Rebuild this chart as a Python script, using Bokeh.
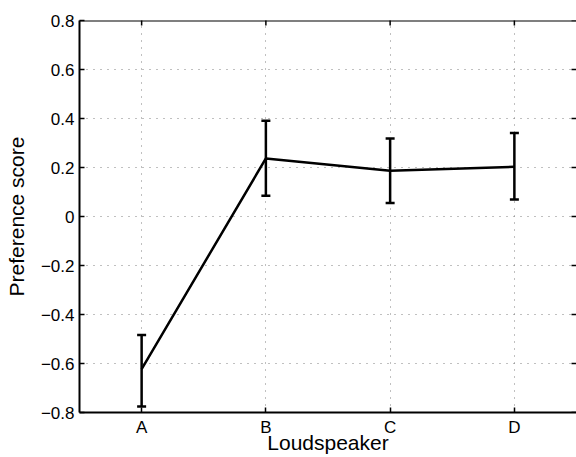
import math
from bokeh.plotting import figure
from bokeh.models import ColumnDataSource, Whisker, TeeHead, FixedTicker, Range1d, Span
from bokeh.embed import file_html
from bokeh.resources import INLINE

categories = ["A", "B", "C", "D"]
means = [-0.623, 0.237, 0.187, 0.203]
upper = [-0.484, 0.391, 0.318, 0.341]
lower = [-0.776, 0.085, 0.055, 0.069]
y_ticks = [-0.8, -0.6, -0.4, -0.2, 0.0, 0.2, 0.4, 0.6, 0.8]
y_tick_labels = ["\u22120.8", "\u22120.6", "\u22120.4", "\u22120.2", "0", "0.2", "0.4", "0.6", "0.8"]

FONT = "Liberation Sans"

src = ColumnDataSource(dict(x=categories, y=means, upper=upper, lower=lower))

p = figure(width=576, height=457, x_range=categories, y_range=Range1d(y_ticks[0], y_ticks[-1]),
           output_backend="svg", toolbar_location=None,
           min_border_left=79, min_border_right=0, min_border_top=20, min_border_bottom=45)
p.x_range.range_padding = 0
p.outline_line_color = None
p.background_fill_color = "white"
p.border_fill_color = "white"

for g in [p.xgrid[0], p.ygrid[0]]:
    g.grid_line_color = "#808080"
    g.grid_line_dash = "1 6"
    g.grid_line_width = 1
p.ygrid.ticker = FixedTicker(ticks=y_ticks)

# top edge of the box (the right edge lies just outside the picture)
p.add_layout(Span(location=y_ticks[-1], dimension="width", line_color="black", line_width=2))

# inward tick marks on top and right edges (MATLAB box style)
top_src = ColumnDataSource(dict(x=categories, y=[y_ticks[-1]] * len(categories)))
p.scatter("x", "y", source=top_src, marker="dash", size=10, angle=math.pi / 2,
          line_color="black", line_width=1.5)
right_src = ColumnDataSource(dict(x=[(categories[-1], 0.5)] * len(y_ticks), y=y_ticks))
p.scatter("x", "y", source=right_src, marker="dash", size=10,
          line_color="black", line_width=1.5)

p.line("x", "y", source=src, line_color="black", line_width=2.5)
w = Whisker(source=src, base="x", upper="upper", lower="lower", dimension="height",
            line_color="black", line_width=2.5,
            upper_head=TeeHead(size=9, line_width=2.5, line_color="black"),
            lower_head=TeeHead(size=9, line_width=2.5, line_color="black"))
p.add_layout(w)

p.yaxis.ticker = FixedTicker(ticks=y_ticks)
p.yaxis.major_label_overrides = {t: l for t, l in zip(y_ticks, y_tick_labels)}

for ax in [p.xaxis[0], p.yaxis[0]]:
    ax.major_tick_in = 5
    ax.major_tick_out = 0
    ax.minor_tick_in = 0
    ax.minor_tick_out = 0
    ax.axis_line_color = "black"
    ax.axis_line_width = 2
    ax.major_tick_line_width = 1.5
    ax.major_label_text_font = FONT
    ax.major_label_text_font_size = "17px"
    ax.major_label_text_color = "black"
    ax.axis_label_text_font = FONT
    ax.axis_label_text_font_size = "21px"
    ax.axis_label_text_font_style = "normal"
    ax.axis_label_text_color = "black"

p.xaxis.axis_label = "Loudspeaker"
p.yaxis.axis_label = "Preference score"
p.yaxis.major_label_standoff = 5
p.yaxis.axis_label_standoff = 10
p.xaxis.major_label_standoff = 5
p.xaxis.axis_label_standoff = -9

open("out.html", "w").write(file_html(p, INLINE))
